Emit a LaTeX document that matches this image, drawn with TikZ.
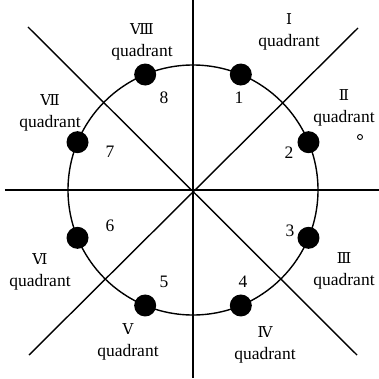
\documentclass[tikz,border=0pt]{standalone}
\usepackage{fontspec}
\setmainfont{Liberation Serif}
\newfontfamily\romfont{DejaVu Serif}
\newcommand{\rom}[1]{{\romfont\fontsize{15}{22.5}\selectfont #1}}

\begin{document}
\begin{tikzpicture}[x=1pt,y=1pt,
  axisline/.style={line width=1.4pt},
  dotmark/.style={circle,fill=black,inner sep=0pt,minimum size=22pt},
  numlabel/.style={inner sep=0pt,font=\fontsize{17.5}{21}\selectfont},
  quadlabel/.style={inner sep=0pt,align=center,font=\fontsize{17.5}{22.5}\selectfont}]
  \useasboundingbox (-193,-188) rectangle (186,190);
  %% Axes and diagonals
  \coordinate (o) at (0,0);
  \coordinate (west) at (-188,0);
  \coordinate (east) at (186,0);
  \coordinate (north) at (0,190);
  \coordinate (south) at (0,-188);
  \coordinate (nw) at (-165,163);
  \coordinate (ne) at (165,162);
  \coordinate (sw) at (-164,-165);
  \coordinate (se) at (164,-165);
  \draw[axisline] (west) -- (east);
  \draw[axisline] (north) -- (south);
  \draw[axisline] (nw) -- (se);
  \draw[axisline] (sw) -- (ne);
  %% Circle and points
  \draw[axisline] (o) circle (125);
  \node[dotmark] (d1) at (67.5:125) {};
  \node[dotmark] (d2) at (22.5:125) {};
  \node[dotmark] (d3) at (-22.5:125) {};
  \node[dotmark] (d4) at (-67.5:125) {};
  \node[dotmark] (d5) at (-112.5:125) {};
  \node[dotmark] (d6) at (-157.5:125) {};
  \node[dotmark] (d7) at (157.5:125) {};
  \node[dotmark] (d8) at (112.5:125) {};
  %% Point numbers
  \node[numlabel] (n1) at (46,92) {1};
  \node[numlabel] (n2) at (96,37) {2};
  \node[numlabel] (n3) at (97,-41) {3};
  \node[numlabel] (n4) at (50,-92) {4};
  \node[numlabel] (n5) at (-29,-92) {5};
  \node[numlabel] (n6) at (-83,-36) {6};
  \node[numlabel] (n7) at (-83,38) {7};
  \node[numlabel] (n8) at (-29,92) {8};
  %% Quadrant names
  \node[quadlabel] (q1) at (96,158) {\rom{Ⅰ}\\quadrant};
  \node[quadlabel] (q2) at (151,82) {\rom{Ⅱ}\\quadrant};
  \node[quadlabel] (q3) at (151,-81) {\rom{Ⅲ}\\quadrant};
  \node[quadlabel] (q4) at (72,-155) {\rom{Ⅳ}\\quadrant};
  \node[quadlabel] (q5) at (-65,-152) {\rom{Ⅴ}\\quadrant};
  \node[quadlabel] (q6) at (-153,-82) {\rom{Ⅵ}\\quadrant};
  \node[quadlabel] (q7) at (-143,77) {\rom{Ⅶ}\\quadrant};
  \node[quadlabel] (q8) at (-51,148) {\rom{Ⅷ}\\quadrant};
  %% small mark
  \draw[line width=0.9pt] (167,53) circle (2.5);
\end{tikzpicture}
\end{document}
